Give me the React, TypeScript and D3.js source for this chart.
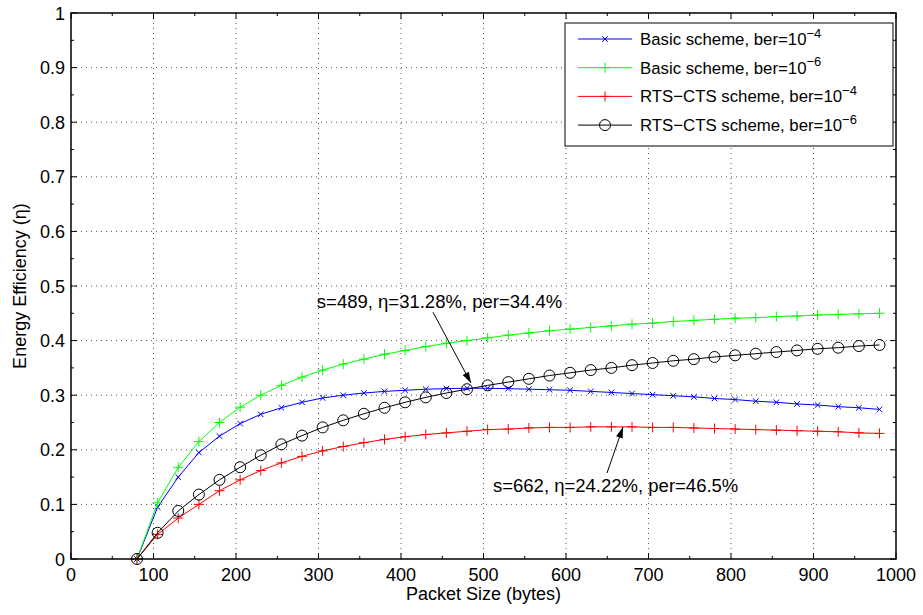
import React from "react";
import * as d3 from "d3";

const xs = [80,105,130,155,180,205,230,255,280,305,330,355,380,405,430,455,480,505,530,555,580,605,630,655,680,705,730,755,780,805,830,855,880,905,930,955,980];
const basic4 = [0,0.095,0.15,0.195,0.225,0.248,0.265,0.277,0.287,0.295,0.300,0.304,0.307,0.309,0.311,0.312,0.3128,0.3127,0.312,0.311,0.310,0.309,0.307,0.305,0.303,0.301,0.299,0.297,0.294,0.292,0.289,0.287,0.284,0.282,0.279,0.277,0.274];
const basic6 = [0,0.103,0.168,0.215,0.25,0.278,0.30,0.318,0.333,0.346,0.357,0.366,0.375,0.382,0.389,0.395,0.40,0.405,0.41,0.414,0.418,0.421,0.424,0.427,0.43,0.432,0.435,0.437,0.439,0.441,0.442,0.444,0.445,0.447,0.448,0.449,0.45];
const rts4 = [0,0.045,0.075,0.10,0.125,0.145,0.162,0.176,0.188,0.198,0.206,0.213,0.219,0.224,0.228,0.231,0.234,0.237,0.238,0.240,0.241,0.241,0.242,0.242,0.242,0.241,0.241,0.240,0.239,0.238,0.237,0.236,0.235,0.234,0.233,0.231,0.230];
const rts6 = [0,0.048,0.088,0.118,0.145,0.168,0.19,0.21,0.226,0.241,0.254,0.266,0.277,0.287,0.296,0.304,0.311,0.318,0.324,0.33,0.336,0.341,0.346,0.350,0.355,0.359,0.363,0.366,0.370,0.373,0.376,0.379,0.382,0.385,0.387,0.390,0.392];

const xTicks = [0,100,200,300,400,500,600,700,800,900,1000];
const yTicks = [0,0.1,0.2,0.3,0.4,0.5,0.6,0.7,0.8,0.9,1];
const xMinor = [50,150,250,350,450,550,650,750,850,950];
const yMinor = [0.05,0.15,0.25,0.35,0.45,0.55,0.65,0.75,0.85,0.95];

const seriesNames = ["Basic scheme, ber=10", "Basic scheme, ber=10", "RTS\u2212CTS scheme, ber=10", "RTS\u2212CTS scheme, ber=10"];
const seriesExp = ["\u22124", "\u22126", "\u22124", "\u22126"];
const seriesColors = ["#0000ff", "#00ff00", "#ff0000", "#000000"];
const seriesMarkers = ["x", "plus", "plus", "circle"];
const seriesData = [basic4, basic6, rts4, rts6];

const xLabel = "Packet Size (bytes)";
const yLabel = "Energy Efficiency (\u03b7)";

const annotations = [
  { text: "s=489, \u03b7=31.28%, per=34.4%", tx: 298, ty: 0.4597, ax0: 438.8, ay0: 0.452, ax1: 484.8, ay1: 0.3223 },
  { text: "s=662, \u03b7=24.22%, per=46.5%", tx: 511.5, ty: 0.1227, ax0: 649.7, ay0: 0.1575, ax1: 669.1, ay1: 0.2418 },
];

const W = 923, H = 615;
const L = 71, R = 896, T = 13, B = 559;
const FONT = "'Liberation Sans', Arial, Helvetica, sans-serif";

function Marker({ type, x, y, color }: { type: string; x: number; y: number; color: string }) {
  if (type === "x") {
    const s = 2.8;
    return <path d={`M${x - s},${y - s}L${x + s},${y + s}M${x - s},${y + s}L${x + s},${y - s}`} stroke={color} strokeWidth={1} fill="none" />;
  }
  if (type === "plus") {
    const s = 5;
    return <path d={`M${x - s},${y}L${x + s},${y}M${x},${y - s}L${x},${y + s}`} stroke={color} strokeWidth={1} fill="none" />;
  }
  return <circle cx={x} cy={y} r={5.5} stroke={color} strokeWidth={1} fill="none" />;
}

export default function App() {
  const x = d3.scaleLinear().domain([0, 1000]).range([L, R]);
  const y = d3.scaleLinear().domain([0, 1]).range([B, T]);
  const line = d3.line<[number, number]>().x(d => x(d[0])).y(d => y(d[1]));

  const arrowHead = (x0: number, y0: number, x1: number, y1: number) => {
    const dx = x1 - x0, dy = y1 - y0;
    const len = Math.hypot(dx, dy);
    const ux = dx / len, uy = dy / len;
    const hl = 11, hw = 3.5;
    const bx = x1 - ux * hl, by = y1 - uy * hl;
    return `M${x1},${y1}L${bx - uy * hw},${by + ux * hw}L${bx + uy * hw},${by - ux * hw}Z`;
  };

  return (
    <svg width={W} height={H} style={{ position: "absolute", left: 0, top: 0, background: "#fff" }} fontFamily={FONT}>
      <rect x={0} y={0} width={W} height={H} fill="#fff" />
      <g stroke="#555" strokeWidth={1} strokeDasharray="1,4">
        {xTicks.slice(1, -1).map(t => (
          <line key={"gx" + t} x1={x(t)} x2={x(t)} y1={B} y2={T} />
        ))}
        {yTicks.slice(1, -1).map(t => (
          <line key={"gy" + t} x1={L} x2={R} y1={y(t)} y2={y(t)} />
        ))}
      </g>
      <g stroke="#000" strokeWidth={1}>
        {xTicks.map(t => (
          <g key={"tx" + t}>
            <line x1={x(t)} x2={x(t)} y1={B} y2={B - 6} />
            <line x1={x(t)} x2={x(t)} y1={T} y2={T + 6} />
          </g>
        ))}
        {xMinor.map(t => (
          <g key={"mx" + t}>
            <line x1={x(t)} x2={x(t)} y1={B} y2={B - 3} />
            <line x1={x(t)} x2={x(t)} y1={T} y2={T + 3} />
          </g>
        ))}
        {yTicks.map(t => (
          <g key={"ty" + t}>
            <line x1={L} x2={L + 6} y1={y(t)} y2={y(t)} />
            <line x1={R} x2={R - 6} y1={y(t)} y2={y(t)} />
          </g>
        ))}
        {yMinor.map(t => (
          <g key={"my" + t}>
            <line x1={L} x2={L + 3} y1={y(t)} y2={y(t)} />
            <line x1={R} x2={R - 3} y1={y(t)} y2={y(t)} />
          </g>
        ))}
      </g>
      {seriesData.map((vals, i) => {
        const pts: [number, number][] = xs.map((xv, j) => [xv, vals[j]]);
        return (
          <g key={"s" + i}>
            <path d={line(pts) || ""} fill="none" stroke={seriesColors[i]} strokeWidth={1} />
            {pts.map((p, j) => (
              <Marker key={j} type={seriesMarkers[i]} x={x(p[0])} y={y(p[1])} color={seriesColors[i]} />
            ))}
          </g>
        );
      })}
      <rect x={L} y={T} width={R - L} height={B - T} fill="none" stroke="#000" strokeWidth={1.5} />
      <g fontSize={18} fill="#000">
        {xTicks.map(t => (
          <text key={"lx" + t} x={x(t)} y={B + 22} textAnchor="middle">{t}</text>
        ))}
        {yTicks.map(t => (
          <text key={"ly" + t} x={L - 6} y={y(t) + 6.5} textAnchor="end">{String(t)}</text>
        ))}
      </g>
      <text x={(L + R) / 2} y={600} textAnchor="middle" fontSize={18}>{xLabel}</text>
      <text transform={`translate(26,${(T + B) / 2}) rotate(-90)`} textAnchor="middle" fontSize={18}>{yLabel}</text>
      {annotations.map((a, i) => {
        const x0 = x(a.ax0), y0 = y(a.ay0), x1 = x(a.ax1), y1 = y(a.ay1);
        return (
          <g key={"a" + i}>
            <text x={x(a.tx)} y={y(a.ty)} fontSize={18.5}>{a.text}</text>
            <line x1={x0} y1={y0} x2={x1} y2={y1} stroke="#000" strokeWidth={1} />
            <path d={arrowHead(x0, y0, x1, y1)} fill="#000" />
          </g>
        );
      })}
      <g>
        <rect x={565} y={23} width={328} height={123} fill="#fff" stroke="#000" strokeWidth={1} />
        {seriesNames.map((n, i) => {
          const ly = 39 + i * 28.7;
          return (
            <g key={"lg" + i}>
              <line x1={578} x2={632} y1={ly} y2={ly} stroke={seriesColors[i]} strokeWidth={1} />
              <Marker type={seriesMarkers[i]} x={605} y={ly} color={seriesColors[i]} />
              <text x={640} y={ly + 6} fontSize={16.8}>
                {n}
                <tspan dy={-7.5} fontSize={13}>{seriesExp[i]}</tspan>
              </text>
            </g>
          );
        })}
      </g>
    </svg>
  );
}
